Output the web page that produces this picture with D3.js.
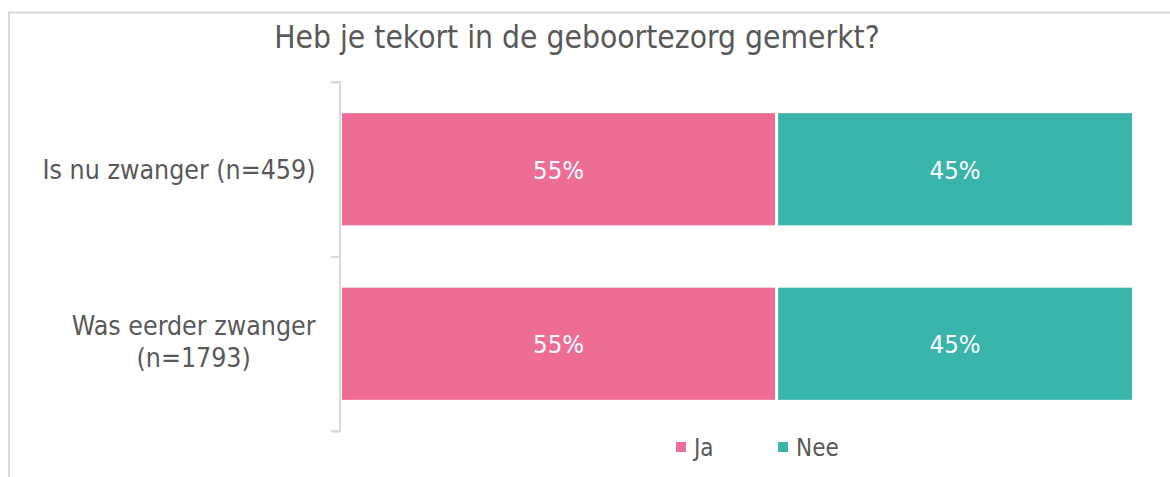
<html>
  <head>
    <meta charset="utf-8"/>
    <style>
      body { margin: 0; background: #fff; }
      text { font-family: "DejaVu Sans Condensed", "DejaVu Sans", sans-serif; font-stretch: condensed; }
    </style>
  </head>
  <body>
    <svg></svg>
  </body>
  <script src="https://d3js.org/d3.v7.min.js"></script>
  <script>
  var title = "Heb je tekort in de geboortezorg gemerkt?"
  var categories = ["Is nu zwanger (n=459)", "Was eerder zwanger (n=1793)"]
  var categoryLines = [["Is nu zwanger (n=459)"], ["Was eerder zwanger", "(n=1793)"]]
  var seriesNames = ["Ja", "Nee"]
  var ja = [0.55, 0.55]
  var nee = [0.45, 0.45]
  var colors = ["#ED6D95", "#38B4AA"]

  var width = 1170, height = 477
  var margin = {top: 82, right: 38, bottom: 46, left: 341}

  var svg = d3.select("svg")
    .attr("width", width)
    .attr("height", height)

  // chart area border
  svg.append("path")
    .attr("d", "M9,480 V12.5 H1175")
    .attr("fill", "none")
    .attr("stroke", "#d9d9d9")
    .attr("stroke-width", 2)

  svg.append("text")
    .attr("x", 577)
    .attr("y", 48)
    .attr("text-anchor", "middle")
    .attr("fill", "#595959")
    .style("font-size", "31.5px")
    .text(title)

  var chart = svg.append("g")
    .attr("transform", "translate(" + margin.left + "," + margin.top + ")")
  var w = width - margin.left - margin.right
  var h = height - margin.top - margin.bottom

  var y = d3.scaleBand()
    .domain(categories)
    .range([0, h])
    .paddingInner(0.34)
    .paddingOuter(0.17)

  var x = d3.scaleLinear()
    .domain([0, 1])
    .range([-0.5, w + 1.5])

  var stacked = d3.stack().keys(seriesNames)(categories.map(function(c, i) {
    return {cat: c, Ja: ja[i], Nee: nee[i]}
  }))

  var layer = chart.selectAll("g.layer")
    .data(stacked)
    .enter().append("g")
    .attr("class", "layer")
    .attr("fill", function(d, i) { return colors[i] })

  layer.selectAll("rect")
    .data(function(d) { return d })
    .enter().append("rect")
    .attr("x", function(d) { return x(d[0]) })
    .attr("width", function(d) { return x(d[1]) - x(d[0]) })
    .attr("y", function(d) { return y(d.data.cat) })
    .attr("height", y.bandwidth())
    .attr("stroke", "#fff")
    .attr("stroke-width", 3)

  layer.selectAll("text")
    .data(function(d) { return d })
    .enter().append("text")
    .attr("x", function(d) { return (x(d[0]) + x(d[1])) / 2 })
    .attr("y", function(d) { return y(d.data.cat) + y.bandwidth() / 2 + 9.5 })
    .attr("text-anchor", "middle")
    .attr("fill", "#fff")
    .style("font-size", "25.5px")
    .text(function(d) { return Math.round((d[1] - d[0]) * 100) + "%" })

  // axis line with boundary ticks
  var bounds = d3.scaleLinear().domain([0, categories.length]).range([0, h])
  chart.append("g")
    .attr("transform", "translate(-1,0)")
    .call(d3.axisLeft(bounds).ticks(categories.length).tickSize(9).tickFormat(""))
    .call(function(g) {
      g.selectAll("path, line").attr("stroke", "#d9d9d9").attr("stroke-width", 2)
      g.select(".domain").attr("d", "M-9,0H0V" + h + "H-9")
    })

  // category labels: block right-aligned, lines centred inside
  var labels = chart.selectAll("g.label")
    .data(categories)
    .enter().append("g")
    .attr("class", "label")
  labels.each(function(c, i) {
    var g = d3.select(this)
    var lines = categoryLines[i]
    var t = g.selectAll("text").data(lines).enter().append("text")
      .attr("fill", "#595959")
      .style("font-size", "26.5px")
      .attr("text-anchor", "middle")
      .text(function(d) { return d })
    var maxW = d3.max(t.nodes(), function(n) { return n.getComputedTextLength() })
    var cy = y(c) + y.bandwidth() / 2 + 10 - 3 * (lines.length - 1)
    t.attr("x", -25.5 - maxW / 2)
      .attr("y", function(d, j) { return cy + (j - (lines.length - 1) / 2) * 31.5 })
  })

  // legend
  var legend = svg.append("g").attr("transform", "translate(676,442)")
  var item = legend.selectAll("g")
    .data(seriesNames)
    .enter().append("g")
    .attr("transform", function(d, i) { return "translate(" + i * 102 + ",0)" })
  item.append("rect")
    .attr("width", 10).attr("height", 10)
    .attr("fill", function(d, i) { return colors[i] })
  item.append("text")
    .attr("x", 18).attr("y", 14)
    .attr("fill", "#595959")
    .style("font-size", "24px")
    .text(function(d) { return d })
  </script>
</html>
